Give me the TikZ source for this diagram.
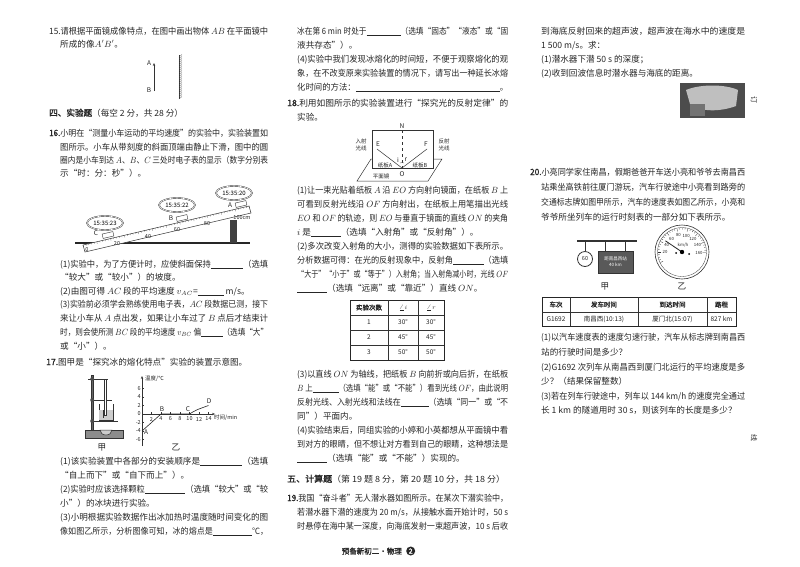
\documentclass[tikz,border=0pt]{standalone}
\usepackage{fontspec}
\usepackage{graphicx}
\setmainfont{Noto Sans CJK SC}[AutoFakeBold=1.5]
\usetikzlibrary{arrows.meta,shapes.geometric}
\newcommand\bl[1]{\rule[-1pt]{#1pt}{0.5pt}}
\begin{document}
\begin{tikzpicture}[x=1pt,y=-1pt,
 tx/.style={anchor=base west,inner sep=0pt,font=\fontsize{8.6}{10}\selectfont,text=black!85},
 sm/.style={inner sep=0pt,font=\fontsize{5.5}{6}\selectfont,text=black!85},
 lb/.style={inner sep=0pt,font=\fontsize{6.5}{7}\selectfont\itshape,text=black!85},
 ln/.style={draw=black!80,line width=0.5pt},
 clock/.style={draw=black!80,double=white,double distance=0.6pt,ellipse,minimum width=36pt,minimum height=14pt,inner sep=0pt,font=\fontsize{6}{6}\selectfont},
 car/.style={draw=black!80,fill=white,minimum width=11pt,minimum height=4.5pt,inner sep=0pt}]
\useasboundingbox[fill=white] (0,0) rectangle (800,566);
\newcommand\Ln[4]{\node[tx] (#1) at (#2,#3+3) {#4};}
\newcommand\Lf[5]{\node[tx] (#1) at (#2,#3+3) {\resizebox{#4pt}{\height}{#5}};}
% ---------- left column
\Lf{a1}{49}{31}{219}{15.请根据平面镜成像特点，在图中画出物体 $AB$ 在平面镜中}
\Ln{a2}{60}{44}{所成的像$A'B'$。}
\coordinate (pA) at (154,63); \coordinate (pB) at (154,91);
\draw[ln,-{Stealth[length=3pt,width=2.4pt]}] (pB) -- (pA);
\node[lb] (lA) at (149,63) {A}; \node[lb] (lB) at (149,90) {B};
\coordinate (m1) at (179,55); \coordinate (m2) at (179,99);
\draw[ln] (m1) -- (m2);
\foreach \y in {57,59,...,99} \draw[black!70,line width=0.3pt] (179,\y) -- (182,\y-2.5);
\Ln{a3}{49}{113}{\textbf{四、实验题}（每空 2 分，共 28 分）}
\Lf{a4}{49}{133}{219}{\textbf{16.}小明在“测量小车运动的平均速度”的实验中，实验装置如}
\Lf{a5}{60}{147}{208}{图所示。小车从带刻度的斜面顶端由静止下滑，图中的圆}
\Lf{a6}{60}{160}{208}{圈内是小车到达 $A$、$B$、$C$ 三处时电子表的显示（数字分别表}
\Ln{a7}{60}{173}{示“时：分：秒”）。}
% incline figure
\draw[black!85,line width=1.2pt] (75,243) -- (250,243);
\fill[black!75] (230,220) rectangle (237,243);
\draw[ln,fill=white] (83,245) -- (249,206) -- (251,213) -- (85,252) -- cycle;
\foreach \t in {0,...,60} {
  \pgfmathsetmacro\xx{83+\t*166/60}\pgfmathsetmacro\yy{245-\t*39/60}
  \pgfmathsetmacro\ll{ifthenelse(mod(\t,5)==0,2.2,1.2)}
  \draw[black!70,line width=0.25pt] (\xx,\yy) -- (\xx+0.4,\yy+\ll);}
\foreach \n/\x/\y in {0/87/250,20/117/244,40/148/237,60/177/230,80/207/224}
  \node[sm] (r\n) at (\x,\y) {\n};
\node[sm] (r100) at (242,218) {100cm};
\node[clock] (kC) at (105,223) {15:35:23};
\node[clock] (kB) at (177,205) {15:35:22};
\node[clock] (kA) at (234,193) {15:35:20};
\node[car,rotate=13] (cC) at (108,235) {};
\node[car,rotate=13] (cB) at (182,218) {};
\node[car,rotate=13] (cA) at (241,204) {};
\node[lb] (lC) at (96,233) {C}; \node[lb] (lB2) at (171,218) {B}; \node[lb] (lA2) at (230,205) {A};
\Lf{a8}{60}{264}{208}{(1)实验中，为了方便计时，应使斜面保持\bl{34}（选填}
\Ln{a9}{60}{277}{“较大”或“较小”）的坡度。}
\Ln{a10}{60}{291}{(2)由图可得 $AC$ 段的平均速度 $v_{AC}$=\bl{26} m/s。}
\Lf{a11}{60}{304}{208}{(3)实验前必须学会熟练使用电子表，$AC$ 段数据已测，接下}
\Lf{a12}{60}{318}{208}{来让小车从 $A$ 点出发，如果让小车过了 $B$ 点后才结束计}
\Lf{a13}{60}{332}{208}{时，则会使所测 $BC$ 段的平均速度 $v_{BC}$ 偏\bl{24}（选填“大”}
\Ln{a14}{60}{346}{或“小”）。}
\Ln{a15}{46}{362}{\textbf{17.}图甲是“探究冰的熔化特点”实验的装置示意图。}
% stand
\draw[ln,fill=black!45] (85,430) rectangle (123,438);
\draw[ln,fill=black!60] (91,375) rectangle (93.5,430);
\draw[ln] (88,379) -- (108,379);
\draw[ln] (92,400) -- (112,400);
\draw[ln] (92,421) -- (118,421);
\foreach \y in {379,400,421} \fill[black!70] (92.2,\y) circle (2pt);
\draw[ln] (99,404) -- (99,420) -- (113,420) -- (113,404);
\fill[black!20] (99.3,410) rectangle (112.7,419.7);
\draw[ln,fill=white] (104,379) rectangle (106,415);
\draw[ln] (103,410) -- (103,418);
\draw[ln,fill=black!20] (100,430) arc (180:0:6 and 5) -- cycle;
\node[tx,anchor=center] (jia) at (102,447) {甲};
% graph
\coordinate (O17) at (142,414);
\draw[ln,-{Stealth[length=3pt,width=2.4pt]}] (142,446) -- (142,376);
\draw[ln,-{Stealth[length=3pt,width=2.4pt]}] (O17) -- (215,414);
\node[sm,anchor=west] (gy) at (145,379) {温度/℃};
\node[sm,anchor=west] (gx) at (214,418) {时间/min};
\foreach \v in {6,4,2,0,-2,-4,-6} {\pgfmathsetmacro\yy{414-\v*4.25}
  \draw[ln] (142,\yy) -- (144,\yy); \node[sm,anchor=east] at (141,\yy) {\v};}
\foreach \v in {2,4,...,14} {\pgfmathsetmacro\xx{142+\v*4.75}
  \draw[ln] (\xx,414) -- (\xx,412); \node[sm] at (\xx,419) {\v};}
\coordinate (gA) at (142,431); \coordinate (gB) at (161,414);
\coordinate (gC) at (189.5,414); \coordinate (gD) at (208.5,405.5);
\draw[black!85,line width=0.6pt] (gA) -- (gB) -- (gC) .. controls (196,410) .. (gD);
\node[lb] at (146,432) {A}; \node[lb] at (162,409) {B}; \node[lb] at (188,409) {C}; \node[lb] at (209,401) {D};
\node[tx,anchor=center] (yi) at (176,447) {乙};
\Lf{a16}{60}{461}{208}{(1)该实验装置中各部分的安装顺序是\bl{42}（选填}
\Ln{a17}{60}{475}{“自上而下”或“自下而上”）。}
\Lf{a18}{60}{489}{208}{(2)实验时应该选择颗粒\bl{42}（选填“较大”或“较}
\Ln{a19}{60}{503}{小”）的冰块进行实验。}
\Lf{a20}{60}{517}{208}{(3)小明根据实验数据作出冰加热时温度随时间变化的图}
\Lf{a21}{60}{531}{208}{像如图乙所示，分析图像可知，冰的熔点是\bl{42}℃，}
% ---------- middle column
\Lf{b1}{297}{31}{211}{冰在第 6 min 时处于\bl{38}（选填“固态”“液态”或“固}
\Ln{b2}{297}{45}{液共存态”）。}
\Lf{b3}{297}{59}{211}{(4)实验中我们发现冰熔化的时间短，不便于观察熔化的观}
\Lf{b4}{297}{73}{211}{象，在不改变原来实验装置的情况下，请写出一种延长冰熔}
\Lf{b5}{297}{87}{211}{化时间的方法：\bl{148}。}
\Lf{b6}{287}{103}{221}{\textbf{18.}利用如图所示的实验装置进行“探究光的反射定律”的}
\Ln{b7}{297}{117}{实验。}
% reflection figure
\draw[ln,fill=white] (357,181) -- (428,181) -- (442,159) -- (371,159) -- cycle;
\draw[ln,fill=white] (372,130) rectangle (433,168);
\coordinate (N) at (402,130); \coordinate (O) at (402,168);
\coordinate (E) at (377,149); \coordinate (F) at (427,149);
\draw[black!80,dashed,line width=0.4pt] (N) -- (O);
\draw[ln] (E) -- (O) -- (F);
\draw[black!70,line width=0.3pt] (400,163) arc (240:300:4);
\node[lb] at (402,126) {N}; \node[lb] at (402,174) {O};
\node[lb] at (378,144) {E}; \node[lb] at (426,144) {F};
\node[lb] at (398,160) {i}; \node[lb] at (406,160) {r};
\node[sm] (zbA) at (385,165) {纸板\textit{A}}; \node[sm] (zbB) at (420,165) {纸板\textit{B}};
\node[sm] (pmj) at (381,176) {平面镜};
\node[sm,align=center] (rsg) at (361,145) {入射\\[1pt]光线};
\node[sm,align=center] (fsg) at (444,145) {反射\\[1pt]光线};
\Lf{b8}{297}{190}{211}{(1)让一束光贴着纸板 $A$ 沿 $EO$ 方向射向镜面，在纸板 $B$ 上}
\Lf{b9}{297}{204}{211}{可看到反射光线沿 $OF$ 方向射出，在纸板上用笔描出光线}
\Lf{b10}{297}{218}{211}{$EO$ 和 $OF$ 的轨迹，则 $EO$ 与垂直于镜面的直线 $ON$ 的夹角}
\Ln{b11}{297}{232}{$i$ 是\bl{30}（选填“入射角”或“反射角”）。}
\Lf{b12}{297}{246}{211}{(2)多次改变入射角的大小，测得的实验数据如下表所示。}
\Lf{b13}{297}{260}{211}{分析数据可得：在光的反射现象中，反射角\bl{32}（选填}
\Lf{b14}{297}{274}{211}{“大于”“小于”或“等于”）入射角；当入射角减小时，光线 $OF$}
\Ln{b15}{297}{288}{\bl{30}（选填“远离”或“靠近”）直线 $ON$。}
% table
\draw[black!85,line width=0.8pt] (350,300) rectangle (444,360);
\foreach \y in {315,330,345} \draw[ln] (350,\y) -- (444,\y);
\foreach \x in {388,418} \draw[ln] (\x,300) -- (\x,360);
\node[sm,font=\fontsize{6.5}{7}\selectfont\bfseries] (h1) at (369,307.5) {实验次数};
\node[sm,font=\fontsize{6.5}{7}\selectfont] (h2) at (403,307.5) {$\angle i$};
\node[sm,font=\fontsize{6.5}{7}\selectfont] (h3) at (431,307.5) {$\angle r$};
\foreach \n/\a/\y in {1/30/322.5,2/45/337.5,3/50/352.5} {
  \node[sm,font=\fontsize{6.5}{7}\selectfont] at (369,\y) {\n};
  \node[sm,font=\fontsize{6.5}{7}\selectfont] at (403,\y) {\a°};
  \node[sm,font=\fontsize{6.5}{7}\selectfont] at (431,\y) {\a°};}
\Lf{b16}{297}{374}{211}{(3)以直线 $ON$ 为轴线，把纸板 $B$ 向前折或向后折，在纸板}
\Lf{b17}{297}{388}{211}{$B$ 上\bl{30}（选填“能”或“不能”）看到光线 $OF$，由此说明}
\Lf{b18}{297}{402}{211}{反射光线、入射光线和法线在\bl{30}（选填“同一”或“不}
\Ln{b19}{297}{416}{同”）平面内。}
\Lf{b20}{297}{430}{211}{(4)实验结束后，同组实验的小婷和小英都想从平面镜中看}
\Lf{b21}{297}{444}{211}{到对方的眼睛，但不想让对方看到自己的眼睛，这种想法是}
\Ln{b22}{297}{458}{\bl{30}（选填“能”或“不能”）实现的。}
\Lf{b23}{287}{479}{218}{\textbf{五、计算题}（第 19 题 8 分，第 20 题 10 分，共 18 分）}
\Lf{b24}{287}{498}{221}{\textbf{19.}我国“奋斗者”无人潜水器如图所示。在某次下潜实验中，}
\Lf{b25}{297}{512}{211}{若潜水器下潜的速度为 20 m/s，从接触水面开始计时，50 s}
\Lf{b26}{297}{526}{211}{时悬停在海中某一深度，向海底发射一束超声波，10 s 后收}
\node[tx,anchor=base east,font=\fontsize{7.5}{8}\selectfont\bfseries] (foot) at (402,554) {预备新初二·物理};
\node[circle,fill=black!85,text=white,inner sep=0pt,minimum size=9pt,font=\fontsize{7}{7}\selectfont\bfseries,anchor=west] (pg) at (406,551) {2};
% ---------- right column
\Lf{c1}{541}{31}{204}{到海底反射回来的超声波，超声波在海水中的速度是}
\Ln{c2}{541}{45}{1 500 m/s。求：}
\Ln{c3}{541}{59}{(1)潜水器下潜 50 s 的深度；}
\Ln{c4}{541}{73}{(2)收到回波信息时潜水器与海底的距离。}
\fill[black!70] (680,83) rectangle (745,118);
\fill[black!25] (686,90) .. controls (700,84) and (725,84) .. (738,90) -- (736,106) .. controls (720,112) and (700,112) .. (690,104) -- cycle;
\fill[black!55] (690,104) rectangle (705,116);
\node[sm,rotate=-90,font=\fontsize{7}{7}\selectfont] (ding) at (754,100) {订};
\Lf{c5}{530}{172}{215}{\textbf{20.}小亮同学家住南昌，假期爸爸开车送小亮和爷爷去南昌西}
\Lf{c6}{541}{187}{204}{站乘坐高铁前往厦门游玩，汽车行驶途中小亮看到路旁的}
\Lf{c7}{541}{202}{204}{交通标志牌如图甲所示，汽车的速度表如图乙所示，小亮和}
\Ln{c8}{541}{217}{爷爷所坐列车的运行时刻表的一部分如下表所示。}
% sign
\draw[black!80,line width=1.3pt] (577,241) -- (637,241);
\foreach \x in {585,605,625} \draw[ln] (\x,241) -- (\x,251);
\draw[black!80,line width=0.8pt,fill=white] (585,259) circle (7.5pt);
\node[sm] (s60) at (585,259) {60};
\draw[black!80,fill=black!65] (598,251) rectangle (633,273);
\node[sm,text=white,align=center,font=\fontsize{4.5}{5}\selectfont] (sbd) at (615.5,262) {距南昌西站\\[1pt]40 km};
\node[tx,anchor=center] (jia2) at (605,286) {甲};
% speedometer
\coordinate (SC) at (682,252);
\draw[black!80,line width=0.6pt] (SC) circle (27pt);
\draw[black!80,line width=0.3pt] (SC) circle (24.5pt);
\foreach \v in {0,5,...,160} {\pgfmathsetmacro\aa{206-1.3*\v}
  \pgfmathsetmacro\rr{ifthenelse(mod(\v,20)==0,21,22.5)}
  \draw[black!80,line width=0.3pt] ({682+\rr*cos(\aa)},{252-\rr*sin(\aa)}) -- ({682+24*cos(\aa)},{252-24*sin(\aa)});}
\foreach \v in {20,40,...,160} {\pgfmathsetmacro\aa{206-1.3*\v}
  \node[sm,font=\fontsize{4.3}{5}\selectfont] at ({682+17*cos(\aa)},{252-17*sin(\aa)}) {\v};}
\node[sm,font=\fontsize{4.3}{5}\selectfont] at (683,245) {km/h};
\draw[black!85,line width=0.8pt] (SC) -- ({682+20*cos(146)},{252-20*sin(146)});
\fill[black] (SC) circle (2.2pt);
\fill[black] (676,253) circle (1pt); \fill[black] (689,254) circle (1pt);
\node[tx,anchor=center] (yi2) at (682,286) {乙};
% timetable
\draw[black!85,line width=0.8pt] (542,297) rectangle (736,326);
\draw[ln] (542,312) -- (736,312);
\foreach \x in {570,638,707} \draw[ln] (\x,297) -- (\x,326);
\foreach \t/\x in {车次/556,发车时间/604,到达时间/672.5,路程/721.5}
  \node[sm,font=\fontsize{6.5}{7}\selectfont\bfseries] at (\x,304.5) {\t};
\foreach \t/\x in {G1692/556,南昌西(10:13)/604,厦门北(15:07)/672.5,827 km/721.5}
  \node[sm,font=\fontsize{6.5}{7}\selectfont] at (\x,319) {\t};
\Lf{c9}{541}{337}{204}{(1)以汽车速度表的速度匀速行驶，汽车从标志牌到南昌西}
\Ln{c10}{541}{352}{站的行驶时间是多少？}
\Lf{c11}{541}{367}{204}{(2)G1692 次列车从南昌西到厦门北运行的平均速度是多}
\Ln{c12}{541}{381}{少？（结果保留整数）}
\Lf{c13}{541}{396}{204}{(3)若在列车行驶途中，列车以 144 km/h 的速度完全通过}
\Ln{c14}{541}{410}{长 1 km 的隧道用时 30 s，则该列车的长度是多少？}
\node[sm,rotate=-90,font=\fontsize{7}{7}\selectfont] (xian) at (754,438) {线};
\end{tikzpicture}
\end{document}
